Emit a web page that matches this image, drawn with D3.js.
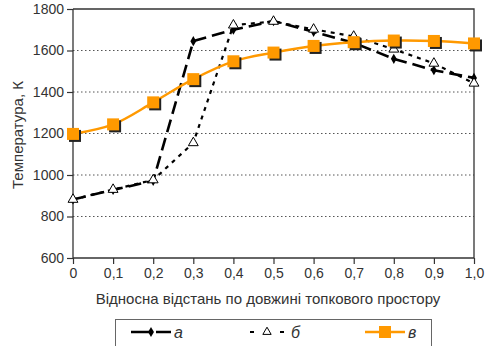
<!DOCTYPE html>
<html>
<head>
<meta charset="utf-8">
<script src="https://cdn.jsdelivr.net/npm/d3@7"></script>
<style>
  body { margin: 0; background: #fff; }
  svg text { font-family: "Liberation Sans", Arial, sans-serif; fill: #333; }
  .grid line { stroke: #555; stroke-dasharray: 1.5 2.5; }
</style>
</head>
<body>
<div id="chart"></div>
<script>
// distances along the furnace, fraction
var xs = [0, 0.1, 0.2, 0.3, 0.4, 0.5, 0.6, 0.7, 0.8, 0.9, 1.0];
var seriesA = [882, 928, 972, 1645, 1700, 1742, 1690, 1637, 1560, 1505, 1468];
var seriesB = [882, 930, 976, 1155, 1722, 1740, 1702, 1668, 1606, 1538, 1442];
var seriesV = [1198, 1244, 1350, 1462, 1548, 1590, 1622, 1640, 1648, 1646, 1634];
var yTicks = [600, 800, 1000, 1200, 1400, 1600, 1800];
var xTickLabels = ["0", "0,1", "0,2", "0,3", "0,4", "0,5", "0,6", "0,7", "0,8", "0,9", "1,0"];
var legendNames = ["а", "б", "в"];

var margin = {top: 9, right: 18, bottom: 88, left: 73},
    width = 492 - margin.left - margin.right,
    height = 346 - margin.top - margin.bottom;

var svg = d3.select('#chart').append('svg')
            .attr('width', 492)
            .attr('height', 346);

var g = svg.append('g')
           .attr('transform', 'translate(' + margin.left + ',' + margin.top + ')');

var x = d3.scaleLinear().domain([0, 1]).range([0, width]);
var y = d3.scaleLinear().domain([600, 1800]).range([height, 0]);

// dotted grid lines
g.append('g').attr('class', 'grid')
 .selectAll('line')
 .data(yTicks.slice(1, -1))
 .enter().append('line')
 .attr('x1', 0).attr('x2', width)
 .attr('y1', function(d){ return y(d); })
 .attr('y2', function(d){ return y(d); });

// frame top/right
g.append('path')
 .attr('d', 'M0,0H' + width + 'V' + height)
 .attr('fill', 'none').attr('stroke', '#333').attr('stroke-width', 1.3);

// axes
var xAxis = d3.axisBottom(x).tickValues(xs).tickSize(6).tickPadding(4)
              .tickFormat(function(d, i){ return xTickLabels[i]; });
var yAxis = d3.axisLeft(y).tickValues(yTicks).tickSize(6).tickPadding(3)
              .tickFormat(d3.format('d'));

var gx = g.append('g').attr('transform', 'translate(0,' + height + ')').call(xAxis);
var gy = g.append('g').call(yAxis);
[gx, gy].forEach(function(a){
  a.select('.domain').attr('stroke', '#333').attr('stroke-width', 1.3);
  a.selectAll('.tick line').attr('stroke', '#333').attr('stroke-width', 1.2);
  a.selectAll('text').style('font-size', '14px').attr('fill', '#333');
});
gy.select('.domain').attr('d', 'M0,' + height + 'V0');
gx.select('.domain').attr('d', 'M0,0H' + width);

// axis titles
svg.append('text')
   .attr('x', 268).attr('y', 304)
   .attr('text-anchor', 'middle')
   .style('font-size', '15px')
   .text('Відносна відстань по довжині топкового простору');
svg.append('text')
   .attr('transform', 'translate(23,135) rotate(-90)')
   .attr('text-anchor', 'middle')
   .style('font-size', '15px')
   .text('Температура, К');

function pts(vals){ return vals.map(function(v, i){ return [xs[i], v]; }); }

var lineStraight = d3.line()
                     .x(function(d){ return x(d[0]); })
                     .y(function(d){ return y(d[1]); });
var lineSmooth = d3.line()
                   .curve(d3.curveCatmullRom.alpha(0.5))
                   .x(function(d){ return x(d[0]); })
                   .y(function(d){ return y(d[1]); });

// series б (short dashes, open triangles)
g.append('path').attr('d', lineStraight(pts(seriesB)))
 .attr('fill', 'none').attr('stroke', '#000').attr('stroke-width', 2.2)
 .attr('stroke-dasharray', '4 5');

// series а (long dashes, diamonds)
g.append('path').attr('d', lineStraight(pts(seriesA)))
 .attr('fill', 'none').attr('stroke', '#000').attr('stroke-width', 2.6)
 .attr('stroke-dasharray', '13 6');

// series в (orange smooth)
g.append('path').attr('d', lineSmooth(pts(seriesV)))
 .attr('fill', 'none').attr('stroke', '#FF9900').attr('stroke-width', 2.4);

var diamond = d3.symbol().type(d3.symbolDiamond).size(30);
var triangle = d3.symbol().type(d3.symbolTriangle).size(42);

g.selectAll('.mA').data(pts(seriesA)).enter().append('path')
 .attr('class', 'mA')
 .attr('d', diamond)
 .attr('transform', function(d){ return 'translate(' + x(d[0]) + ',' + y(d[1]) + ')'; })
 .attr('fill', '#000');

g.selectAll('.mB').data(pts(seriesB)).enter().append('path')
 .attr('class', 'mB')
 .attr('d', triangle)
 .attr('transform', function(d){ return 'translate(' + x(d[0]) + ',' + y(d[1]) + ')'; })
 .attr('fill', '#fff').attr('stroke', '#000').attr('stroke-width', 1);

// squares with dark shadow
var sq = 12;
g.selectAll('.sV').data(pts(seriesV)).enter().append('rect')
 .attr('class', 'sV')
 .attr('x', function(d){ return x(d[0]) - sq / 2 + 2; })
 .attr('y', function(d){ return y(d[1]) - sq / 2 + 2; })
 .attr('width', sq).attr('height', sq)
 .attr('fill', '#222');
g.selectAll('.mV').data(pts(seriesV)).enter().append('rect')
 .attr('class', 'mV')
 .attr('x', function(d){ return x(d[0]) - sq / 2; })
 .attr('y', function(d){ return y(d[1]) - sq / 2; })
 .attr('width', sq).attr('height', sq)
 .attr('fill', '#FF9900');

// legend
var lg = svg.append('g');
lg.append('rect')
  .attr('x', 115.5).attr('y', 319.5).attr('width', 316).attr('height', 40)
  .attr('fill', '#fff').attr('stroke', '#666').attr('stroke-width', 1);

var lx = [131, 250, 365];
// а
lg.append('line').attr('x1', lx[0]).attr('x2', lx[0] + 40).attr('y1', 332).attr('y2', 332)
  .attr('stroke', '#000').attr('stroke-width', 2.6).attr('stroke-dasharray', '20 5 10 0');
lg.append('path').attr('d', diamond).attr('transform', 'translate(151,332)').attr('fill', '#000');
// б
lg.append('line').attr('x1', lx[1]).attr('x2', lx[1] + 34).attr('y1', 332).attr('y2', 332)
  .attr('stroke', '#000').attr('stroke-width', 2.2).attr('stroke-dasharray', '4 26 4');
lg.append('path').attr('d', d3.symbol().type(d3.symbolTriangle).size(30))
  .attr('transform', 'translate(267,332)').attr('fill', '#fff').attr('stroke', '#000');
// в
lg.append('line').attr('x1', lx[2]).attr('x2', lx[2] + 40).attr('y1', 332).attr('y2', 332)
  .attr('stroke', '#FF9900').attr('stroke-width', 2.4);
lg.append('rect').attr('x', 379).attr('y', 326).attr('width', 12).attr('height', 12).attr('fill', '#FF9900');

lg.selectAll('.lt').data(legendNames).enter().append('text')
  .attr('class', 'lt')
  .attr('x', function(d, i){ return [174, 291, 408][i]; })
  .attr('y', 338)
  .style('font-size', '16px').style('font-style', 'italic')
  .text(function(d){ return d; });
</script>
</body>
</html>
